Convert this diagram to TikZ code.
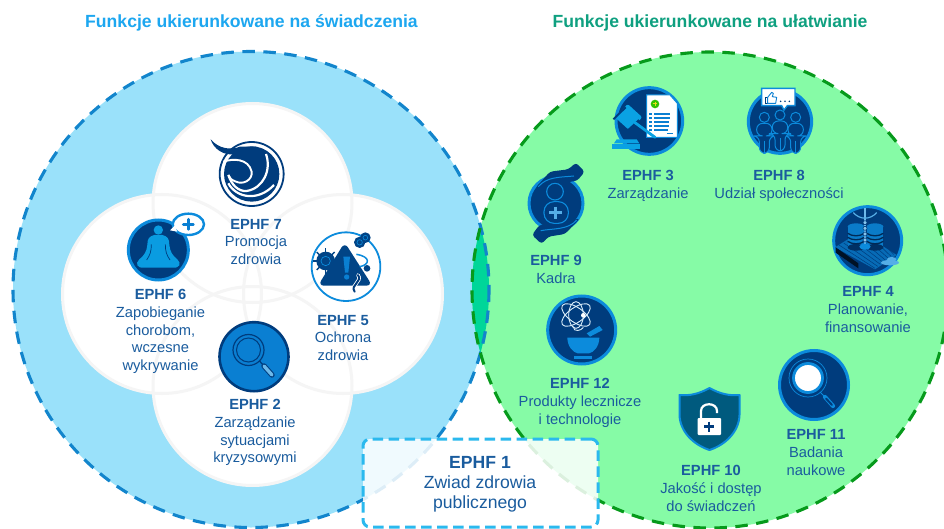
\documentclass[tikz,border=0pt]{standalone}
\usepackage{fontspec}
\setmainfont{Liberation Sans}
\definecolor{navy}{HTML}{003C7D}
\definecolor{ringb}{HTML}{0C8BDC}
\definecolor{midb}{HTML}{0A7FD2}
\definecolor{txtb}{HTML}{1A5C9E}
\definecolor{lblue}{HTML}{9AE1FA}
\definecolor{lgreen}{HTML}{86FBA6}
\definecolor{lens}{HTML}{00D699}
\definecolor{dashb}{HTML}{1285CC}
\definecolor{dashg}{HTML}{069A1B}
\definecolor{boxc}{HTML}{2BB9EE}
\definecolor{titleb}{HTML}{1DA7F0}
\definecolor{titleg}{HTML}{0FA080}
\tikzset{
  lab/.style={align=center,text=txtb,font=\fontsize{14.7}{17.8}\selectfont,inner sep=0pt},
  head/.style={font=\fontsize{17.6}{20}\selectfont\bfseries,inner sep=0pt},
  disc/.style={fill=navy,draw=ringb,line width=3pt},
  wcirc/.style={draw=black!4,line width=3pt},
  zoomed/.style={shift={#1},x=0.33333pt,y=-0.33333pt}
}
\newcommand{\ttl}[1]{\textbf{#1}}
\begin{document}
\begin{tikzpicture}[x=1pt,y=-1pt]
\useasboundingbox (0,0) rectangle (944,529);
\fill[white] (0,0) rectangle (944,529);
\begin{scope}
\clip (0,0) rectangle (944,529);
\fill[lblue] (251,289.5) circle (238);
\fill[lgreen] (710,290) circle (238);
\begin{scope}
\clip (251,289.5) circle (238);
\fill[lens] (710,290) circle (238);
\end{scope}
\draw[dashb,line width=3.1pt,dash pattern=on 12.5pt off 8.5pt] (251,289.5) circle (238);
\draw[dashg,line width=3.1pt,dash pattern=on 12.5pt off 8.5pt] (710,290) circle (238);
\end{scope}
% white petals
\foreach \c in {(252.5,203),(162,294),(343,294),(252.5,386)}{\fill[white] \c circle (99.5);}
\foreach \c in {(252.5,203),(162,294),(343,294),(252.5,386)}{\draw[wcirc] \c circle (99.5);}
% EPHF 1 box
\node[draw=boxc,fill=white,fill opacity=.86,draw opacity=1,line width=3pt,dash pattern=on 10.5pt off 5.5pt,rounded corners=7pt,minimum width=235pt,minimum height=88pt,inner sep=0pt] (box1) at (480.5,483) {};
% ---------- EPHF 7
\begin{scope}[zoomed={(200,130)}]
\draw[navy,line width=1.8pt] (155,132) circle (96);
\fill[navy] (155,132) circle (83);
\fill[navy] (32,28) .. controls (40,55) and (70,80) .. (110,72) -- (170,50) -- (120,50) .. controls (90,62) and (55,55) .. (32,28) -- cycle;
\draw[white,line width=1.9pt] (70,95) .. controls (100,85) and (145,85) .. (155,125) .. controls (158,150) and (130,165) .. (108,155) .. controls (95,150) and (88,145) .. (85,135);
\draw[white,line width=2.2pt] (198,72) .. controls (215,120) and (190,175) .. (140,183) .. controls (115,185) and (95,165) .. (85,135);
\draw[white,line width=2.2pt] (85,160) .. controls (110,205) and (175,215) .. (222,165);
\end{scope}
% ---------- EPHF 6
\begin{scope}[zoomed={(120,205)}]
\draw[disc] (115,135) circle (90);
\fill[ringb!85!cyan] (115,75) circle (14);
\fill[ringb!85!cyan] (103,90) -- (127,90) .. controls (142,94) and (148,100) .. (148,120) .. controls (150,140) and (158,152) .. (172,163) .. controls (186,176) and (178,190) .. (158,188) -- (72,188) .. controls (52,190) and (44,176) .. (58,163) .. controls (72,152) and (80,140) .. (82,120) .. controls (82,100) and (88,94) .. (103,90) -- cycle;
\draw[navy,line width=.7pt] (94,118) .. controls (94,140) and (90,150) .. (80,165);
\draw[navy,line width=.7pt] (136,118) .. controls (136,140) and (140,150) .. (150,165);
\draw[fill=white,draw=ringb,line width=2.4pt] (205,58) ellipse (47 and 32);
\fill[white] (164,62) -- (172,80) -- (150,76) -- cycle;
\draw[midb,line width=2.8pt,line cap=round] (190,58) -- (220,58) (205,43) -- (205,73);
\end{scope}
% ---------- EPHF 5
\begin{scope}[zoomed={(303,225)}]
\draw[fill=white,draw=ringb,line width=1.8pt] (129,125) circle (103);
\fill[navy!90!ringb,rounded corners=6pt] (125,52) -- (208,182) -- (45,182) -- cycle;
\fill[navy!90!ringb] (68,108) circle (28);
\foreach \a in {0,45,...,315}{\draw[navy!90!ringb,line width=1.5pt] (68,108) -- ++(\a:38);}
\draw[ringb,line width=.7pt] (68,108) circle (14);
\fill[navy!90!ringb] (170,52) circle (17) (187,38) circle (16);
\draw[ringb,line width=.6pt] (170,52) circle (8) (187,38) circle (7);
\draw[ringb,line width=1.5pt] (160,88) .. controls (205,95) and (200,120) .. (170,125);
\fill[navy!90!ringb] (192,130) circle (10);
\fill[midb] (121,95) -- (141,95) -- (136,143) -- (126,143) -- cycle;
\fill[midb] (131,156) circle (8);
\draw[white,line width=3.6pt,line cap=round] (165,150) .. controls (180,170) and (140,180) .. (155,200);
\draw[navy,line width=2pt,line cap=round] (165,150) .. controls (180,170) and (140,180) .. (155,200);
\end{scope}
% ---------- EPHF 2
\draw[fill=midb,draw=navy,line width=2.6pt] (254,356.7) circle (34.5);
\draw[navy,line width=1.2pt] (248.5,350) circle (15.5);
\draw[navy,line width=1pt] (248.5,350) circle (12);
\draw[navy,line width=1.2pt] (259.5,361) -- (264,366);
\draw[navy,line width=5.4pt,line cap=round] (264,366) -- (272,375);
\draw[ringb!60!white,line width=3.4pt,line cap=round] (264,366) -- (272,375);
% ---------- EPHF 3
\begin{scope}[zoomed={(605,80)}]
\draw[disc] (133,123) circle (100);
\draw[fill=white,draw=ringb,line width=1pt] (125,45) -- (195,45) -- (217,70) -- (217,172) -- (125,172) -- cycle;
\fill[green!70!black!80!yellow] (150,72) circle (13);
\draw[yellow!90!black,line width=1pt] (143,72) -- (157,72) (150,65) -- (150,79);
\foreach \y in {100,112,124,136,148}{\fill[midb] (133,\y) rectangle (140,\y+5); \fill[midb] (146,\y) rectangle (205-\y/10,\y+4);}
\fill[midb] (185,158) rectangle (205,163);
\fill[ringb!80!cyan,rounded corners=2pt] (68,72) -- (112,112) -- (72,150) -- (30,112) -- cycle;
\fill[navy] (60,80) -- (64,84) -- (27,120) -- (23,116) -- cycle;
\fill[navy] (100,118) -- (104,122) -- (72,152) -- (68,148) -- cycle;
\draw[ringb!80!cyan,line width=2.8pt,line cap=round] (90,128) -- (150,172);
\fill[ringb!80!cyan] (35,178) -- (95,178) -- (103,190) -- (27,190) -- cycle;
\fill[ringb!80!cyan] (22,193) rectangle (105,206);
\end{scope}
% ---------- EPHF 8
\begin{scope}[zoomed={(470,60)}]
\draw[disc] (930,185) circle (95);
\draw[fill=white,draw=ringb,line width=1.4pt] (875,85) -- (975,85) -- (975,137) -- (952,137) -- (942,150) -- (935,137) -- (875,137) -- cycle;
\draw[navy,line width=.9pt] (885,130) rectangle (893,112);
\draw[midb,fill=white,line width=.9pt,line join=round] (893,112) -- (905,97) -- (910,100) -- (907,110) -- (920,112) -- (917,130) -- (893,130) -- cycle;
\fill[navy] (932,124) circle (2.6) (945,124) circle (2.6) (958,124) circle (2.6);
\foreach \px/\hy in {883/172,977/172,930/165}{
\draw[fill=navy,draw=ringb,line width=1pt] (\px,\hy) circle (15);
\draw[fill=navy,draw=ringb,line width=1pt,rounded corners=6pt] (\px-23,\hy+56) -- (\px-23,\hy+18) -- (\px+23,\hy+18) -- (\px+23,\hy+56) -- (\px+15,\hy+56) -- (\px+15,\hy+108) -- (\px-15,\hy+108) -- (\px-15,\hy+56) -- cycle;
\draw[ringb,line width=.7pt] (\px,\hy+70) -- (\px,\hy+108);}
\end{scope}
% ---------- EPHF 9
\begin{scope}[zoomed={(470,60)}]
\fill[navy] (258,430) circle (83);
\draw[ringb,line width=3pt] (258,430) circle (81);
\fill[navy,rounded corners=3pt] (318,308) -- (344,335) -- (322,362) -- (260,372) -- (195,385) -- (240,335) -- (295,328) -- cycle;
\fill[navy,rounded corners=3pt] (215,552) -- (186,525) -- (208,495) -- (270,488) -- (330,475) -- (285,522) -- (235,530) -- cycle;
\draw[ringb,line width=1pt] (205,380) .. controls (230,350) and (270,352) .. (312,348);
\draw[ringb,line width=1pt] (320,480) .. controls (295,510) and (250,505) .. (212,512);
\draw[ringb,line width=1.1pt] (255,395) circle (25);
\draw[ringb,line width=1.1pt,rounded corners=10pt] (222,425) rectangle (295,490);
\draw[ringb!70!white,line width=3.2pt] (238,458) -- (275,458) (257,440) -- (257,476);
\end{scope}
% ---------- EPHF 4
\begin{scope}[zoomed={(825,200)}]
\draw[disc] (128,122) circle (102);
\fill[ringb!60!navy] (30,142) -- (105,95) -- (215,165) -- (150,208) -- cycle;
\foreach \i in {0,1,...,7}{\draw[navy,line width=.5pt] ({42+\i*14},{135-\i*6}) -- ({150+\i*8},{205-\i*6});}
\fill[black!70!navy] (32,142) -- (100,190) -- (100,205) -- (32,158) -- cycle;
\foreach \cx in {93,150}{
\fill[ringb!80!navy] (\cx-25,80) rectangle (\cx+25,142);
\fill[ringb!80!navy] (\cx,80) ellipse (25 and 10);
\fill[navy!80!black] (\cx,142) ellipse (25 and 10);
\foreach \y in {100,112,124}{\draw[navy!70!black,line width=1.3pt] (\cx-25,\y) .. controls (\cx-10,\y+10) and (\cx+10,\y+10) .. (\cx+25,\y);}}
\draw[ringb!60!white,line width=1.4pt] (120,25) -- (120,140);
\draw[ringb!70!white,line width=1.2pt] (85,38) .. controls (105,60) and (135,60) .. (155,38);
\fill[ringb] (120,140) ellipse (17 and 9);
\foreach \y in {68,85,102,120}{\draw[navy,fill=ringb!50!white,line width=.6pt] (120,\y) circle (6);}
\fill[ringb!70!white] (195,188) ellipse (27 and 8);
\fill[ringb!70!white] (200,178) ellipse (14 and 7);
\end{scope}
% ---------- EPHF 12
\begin{scope}[zoomed={(540,290)}]
\draw[disc] (125,120) circle (102);
\draw[white!85!ringb,line width=.9pt,rotate around={-35:(108,75)}] (108,75) ellipse (50 and 22);
\draw[white!85!ringb,line width=.9pt,rotate around={35:(108,75)}] (108,75) ellipse (50 and 22);
\draw[white!85!ringb,line width=.9pt] (108,75) ellipse (22 and 40);
\fill[white] (130,76) circle (7);
\draw[white!85!ringb,line width=.9pt] (100,110) .. controls (100,128) and (125,122) .. (130,112);
\fill[ringb] (140,130) -- (178,108) -- (188,120) -- (150,140) -- cycle;
\fill[ringb] (82,143) -- (178,143) .. controls (178,170) and (160,188) .. (147,190) -- (113,190) .. controls (100,188) and (82,170) .. (82,143) -- cycle;
\fill[ringb] (102,197) rectangle (155,206);
\end{scope}
% ---------- EPHF 10
\draw[fill=navy!55!teal,draw=ringb,line width=2pt,line join=round] (709.5,388) .. controls (720,394) and (730,396) .. (739.5,395) -- (739.5,415) .. controls (739,432) and (725,445) .. (709.5,450) .. controls (694,445) and (680,432) .. (679.5,415) -- (679.5,395) .. controls (689,396) and (699,394) .. (709.5,388) -- cycle;
\fill[white,rounded corners=1pt] (697.5,418) rectangle (721,435);
\draw[white,line width=2.2pt] (701,418) -- (701,411) .. controls (701,402) and (717,402) .. (717,411) -- (717,413);
\draw[navy,line width=2.2pt] (709.3,421.5) -- (709.3,431.5) (704.3,426.5) -- (714.3,426.5);
% ---------- EPHF 11
\draw[disc] (814,385) circle (34.5);
\draw[fill=white,draw=ringb,line width=2.8pt] (808,378) circle (14.5);
\draw[ringb,line width=.7pt] (808,378) circle (19);
\draw[ringb,line width=1pt] (820,392) -- (825,397);
\draw[ringb,line width=4.2pt,line cap=round] (825,397) -- (833,406);
\draw[navy,line width=2pt,line cap=round] (826,398.5) -- (832,405);
% ---------- titles
\node[head,text=titleb] (t1) at (251.5,23) {Funkcje ukierunkowane na świadczenia};
\node[head,text=titleg] (t2) at (710,23) {Funkcje ukierunkowane na ułatwianie};
% ---------- labels
\node[lab] (e7) at (256,242) {\ttl{EPHF 7}\\Promocja\\zdrowia};
\node[lab] (e6) at (160.5,331.5) {\ttl{EPHF 6}\\Zapobieganie\\chorobom,\\wczesne\\wykrywanie};
\node[lab] (e5) at (343,338) {\ttl{EPHF 5}\\Ochrona\\zdrowia};
\node[lab] (e2) at (255,432.5) {\ttl{EPHF 2}\\Zarządzanie\\sytuacjami\\kryzysowymi};
\node[lab] (e3) at (648,186) {\ttl{EPHF 3}\\Zarządzanie};
\node[lab] (e8) at (779,186) {\ttl{EPHF 8}\\Udział społeczności};
\node[lab] (e9) at (556,269.5) {\ttl{EPHF 9}\\Kadra};
\node[lab] (e4) at (868,309.5) {\ttl{EPHF 4}\\Planowanie,\\finansowanie};
\node[lab] (e12) at (580,403) {\ttl{EPHF 12}\\Produkty lecznicze\\i technologie};
\node[lab] (e10) at (711,488.5) {\ttl{EPHF 10}\\Jakość i dostęp\\do świadczeń};
\node[lab] (e11) at (816,452.5) {\ttl{EPHF 11}\\Badania\\naukowe};
\node[lab,font=\fontsize{17.6}{20}\selectfont] (e1) at (480,484) {\ttl{EPHF 1}\\Zwiad zdrowia\\publicznego};
\end{tikzpicture}
\end{document}
